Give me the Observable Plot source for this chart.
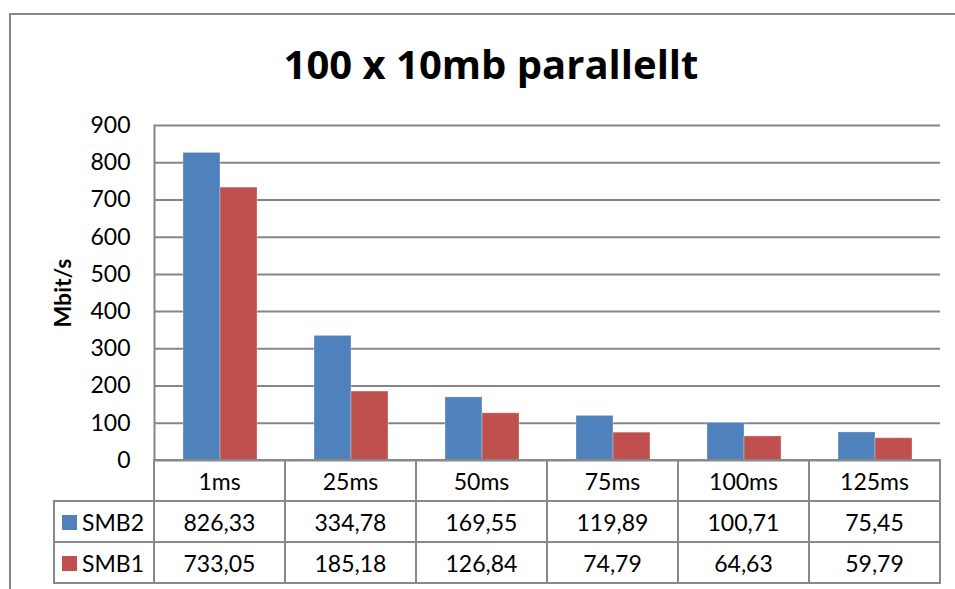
<!DOCTYPE html>
<html>
<head>
<meta charset="utf-8">
<script src="https://cdn.jsdelivr.net/npm/d3@7"></script>
<script src="https://cdn.jsdelivr.net/npm/@observablehq/plot@0.6"></script>
<style>
  html, body { margin: 0; padding: 0; background: #fff; }
  #chart { position: relative; width: 955px; height: 589px; overflow: hidden; background: #fff; font-family: Lato, sans-serif; color: #000; }
  #border { position: absolute; left: 9px; top: 13px; width: 1200px; height: 800px; border-left: 2px solid #878787; border-top: 2px solid #878787; }
  #title { position: absolute; left: 0; top: 44px; width: 982px; text-align: center; font: bold 40px/40px "Open Sans", sans-serif; white-space: nowrap; }
  #plot { position: absolute; left: 0; top: 0; }
  #plot svg { overflow: visible; }
  #plot g[aria-label="y-axis label"] text { font-weight: bold; }
  #table { position: absolute; border-collapse: collapse; table-layout: fixed; font: 23px Lato, sans-serif; }
  #table td { border: 2px solid #898989; height: 39px; padding: 0; text-align: center; vertical-align: middle; white-space: nowrap; }
  #table td.corner { border-top: none; border-left: none; }
  #table td.key { text-align: left; padding-left: 7px; }
  #table .swatch { display: inline-block; width: 15px; height: 15px; margin-right: 5px; vertical-align: 1px; }
</style>
</head>
<body>
<div id="chart">
  <div id="border"></div>
  <div id="title"></div>
  <div id="plot"></div>
</div>
<script>
// Throughput per latency setting, 100 parallel 10 MB transfers
const categories = ["1ms", "25ms", "50ms", "75ms", "100ms", "125ms"];
const seriesNames = ["SMB2", "SMB1"];
const smb2Values = [826.33, 334.78, 169.55, 119.89, 100.71, 75.45];
const smb1Values = [733.05, 185.18, 126.84, 74.79, 64.63, 59.79];
const seriesColors = ["#4F81BD", "#C0504D"];
const yTicks = [0, 100, 200, 300, 400, 500, 600, 700, 800, 900];
const titleText = "100 x 10mb parallellt";
const yLabel = "Mbit/s";

const valuesBySeries = {SMB2: smb2Values, SMB1: smb1Values};
const rows = seriesNames.flatMap((s) =>
  categories.map((c, i) => ({category: c, series: s, value: valuesBySeries[s][i]}))
);

const fmt = (v) => v.toFixed(2).replace(".", ",");

document.getElementById("title").textContent = titleText;

const grid = "#868686";

const plot = Plot.plot({
  width: 955,
  height: 589,
  marginLeft: 154,
  marginRight: 15,
  marginTop: 125,
  marginBottom: 129,
  style: {fontFamily: "Lato, sans-serif", fontSize: "23px", color: "#000", background: "transparent"},
  fx: {domain: categories, padding: 0, axis: null},
  x: {domain: seriesNames, paddingInner: 0, paddingOuter: 0.77, axis: null},
  y: {domain: [0, 900]},
  color: {domain: seriesNames, range: seriesColors},
  marks: [
    Plot.gridY(yTicks, {stroke: grid, strokeOpacity: 1, strokeWidth: 2}),
    Plot.frame({anchor: "left", facetAnchor: "left", stroke: grid, strokeWidth: 2}),
    Plot.axisY(yTicks, {
      tickSize: 0,
      tickPadding: 24,
      fontSize: 23,
      label: yLabel,
      labelAnchor: "center",
      labelArrow: "none",
      labelOffset: 100
    }),
    Plot.barY(rows, {
      fx: "category",
      x: "series",
      y: "value",
      fill: "series",
      stroke: "#fff",
      strokeOpacity: 0.3,
      strokeWidth: 1
    })
  ]
});
document.getElementById("plot").appendChild(plot);

// Data table under the plot, columns aligned with the category bands
const fx = plot.scale("fx");
const colW = fx.bandwidth !== undefined ? fx.bandwidth : (940 - 154) / categories.length;
const left0 = fx.range ? fx.range[0] : 154;
const keyLeft = 54;

const table = document.createElement("table");
table.id = "table";
table.style.left = (keyLeft - 1) + "px";
table.style.top = "459px";
table.style.width = (left0 - keyLeft + colW * categories.length) + "px";

const colgroup = document.createElement("colgroup");
const c0 = document.createElement("col");
c0.style.width = (left0 - keyLeft) + "px";
colgroup.appendChild(c0);
categories.forEach(() => {
  const c = document.createElement("col");
  c.style.width = colW + "px";
  colgroup.appendChild(c);
});
table.appendChild(colgroup);

const head = document.createElement("tr");
const corner = document.createElement("td");
corner.className = "corner";
head.appendChild(corner);
categories.forEach((c) => {
  const td = document.createElement("td");
  td.textContent = c;
  head.appendChild(td);
});
table.appendChild(head);

seriesNames.forEach((s, si) => {
  const tr = document.createElement("tr");
  const key = document.createElement("td");
  key.className = "key";
  const sw = document.createElement("span");
  sw.className = "swatch";
  sw.style.background = seriesColors[si];
  key.appendChild(sw);
  key.appendChild(document.createTextNode(s));
  tr.appendChild(key);
  valuesBySeries[s].forEach((v) => {
    const td = document.createElement("td");
    td.textContent = fmt(v);
    tr.appendChild(td);
  });
  table.appendChild(tr);
});
document.getElementById("chart").appendChild(table);
</script>
</body>
</html>
